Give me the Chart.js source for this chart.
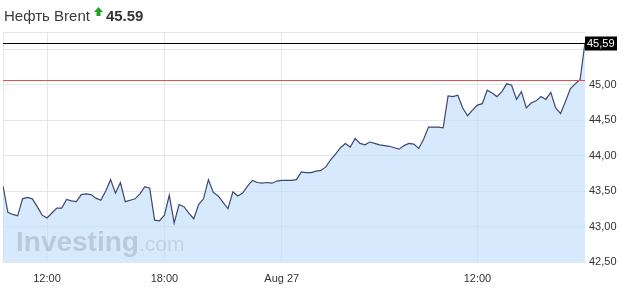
<!DOCTYPE html>
<html>
<head>
<meta charset="utf-8">
<script src="https://cdn.jsdelivr.net/npm/chart.js@4/dist/chart.umd.min.js"></script>
<style>
  html, body { margin: 0; padding: 0; background: #fff; }
  #wrap { position: relative; width: 630px; height: 296px; }
  #title {
    position: absolute; left: 4px; top: 8px; line-height: 15px;
    font-family: "Liberation Sans", Arial, sans-serif; font-size: 15px; color: #3a3a3a;
    white-space: nowrap;
  }
  #title svg { vertical-align: top; margin: -1px 3px 0 4px; }
  #title b { font-size: 15px; color: #333; }
  canvas { position: absolute; left: 0; top: 0; }
</style>
</head>
<body>
<div id="wrap">
  <canvas id="chart" width="630" height="296"></canvas>
  <div id="title">Нефть Brent<svg width="9" height="10" viewBox="0 0 9 10"><path d="M4.5 0 L9 5 L6.5 5 L6.5 9 L2.5 9 L2.5 5 L0 5 Z" fill="#23a323"/></svg><b>45.59</b></div>
</div>
<script>
// 15-minute closes, Aug 26 09:45 onwards
const prices = [
  43.57, 43.20, 43.17, 43.15, 43.39, 43.41, 43.39, 43.28, 43.16, 43.12,
  43.19, 43.26, 43.26, 43.38, 43.36, 43.35, 43.45, 43.46, 43.45, 43.40,
  43.37, 43.50, 43.66, 43.47, 43.62, 43.35, 43.37, 43.39, 43.46, 43.56,
  43.54, 43.09, 43.08, 43.16, 43.44, 43.05, 43.31, 43.28, 43.19, 43.11,
  43.31, 43.39, 43.66, 43.48, 43.43, 43.34, 43.25, 43.49, 43.43, 43.47,
  43.57, 43.65, 43.62, 43.61, 43.62, 43.61, 43.64, 43.65, 43.65, 43.65,
  43.66, 43.77, 43.76, 43.76, 43.78, 43.79, 43.84, 43.94, 44.02, 44.11,
  44.17, 44.12, 44.24, 44.17, 44.15, 44.19, 44.17, 44.15, 44.14, 44.13,
  44.11, 44.09, 44.14, 44.17, 44.16, 44.10, 44.23, 44.40, 44.40, 44.40,
  44.39, 44.84, 44.83, 44.85, 44.67, 44.56, 44.64, 44.71, 44.73, 44.92,
  44.88, 44.83, 44.90, 45.01, 44.99, 44.79, 44.90, 44.67, 44.74, 44.77,
  44.83, 44.79, 44.89, 44.67, 44.59, 44.76, 44.94, 45.01, 45.07, 45.59
];

const tickIndex = [9, 33, 57, 97];
const tickLabels = ["12:00", "18:00", "Aug 27", "12:00"];
const yTicks = [42.5, 43, 43.5, 44, 44.5, 45, 45.5];

const lastPrice = 45.59;
const prevClose = 45.06;

const gridColor = "#e4e6ec";
const font = { family: "'Liberation Sans', Arial, sans-serif", size: 11 };

const extras = {
  id: "extras",
  beforeDatasetsDraw(chart) {
    const { ctx, chartArea: a } = chart;
    ctx.save();
    ctx.strokeStyle = gridColor;
    ctx.lineWidth = 1;
    ctx.beginPath();
    ctx.moveTo(a.left + 0.5, a.bottom);
    ctx.lineTo(a.left + 0.5, a.top + 0.5);
    ctx.lineTo(a.right, a.top + 0.5);
    ctx.stroke();
    ctx.restore();
  },
  afterDatasetsDraw(chart) {
    const { ctx, chartArea: a, scales } = chart;
    ctx.save();
    // watermark
    ctx.fillStyle = "rgba(140,150,168,0.38)";
    ctx.font = "bold 28px 'Liberation Sans', Arial, sans-serif";
    ctx.textBaseline = "alphabetic";
    ctx.fillText("Investing", 16, 251);
    const w = ctx.measureText("Investing").width;
    ctx.fillStyle = "rgba(140,150,168,0.28)";
    ctx.font = "21px 'Liberation Sans', Arial, sans-serif";
    ctx.fillText(".com", 16 + w, 251);

    // previous close and last price lines
    const yRed = Math.round(scales.y.getPixelForValue(prevClose)) + 0.5;
    ctx.strokeStyle = "#e05050";
    ctx.lineWidth = 1;
    ctx.beginPath();
    ctx.moveTo(a.left, yRed);
    ctx.lineTo(a.right, yRed);
    ctx.stroke();

    const yBlk = Math.round(scales.y.getPixelForValue(lastPrice)) + 0.5;
    ctx.strokeStyle = "#000";
    ctx.beginPath();
    ctx.moveTo(a.left, yBlk);
    ctx.lineTo(a.right, yBlk);
    ctx.stroke();

    ctx.fillStyle = "#000";
    ctx.fillRect(a.right, yBlk - 7, 32, 14);
    ctx.fillStyle = "#fff";
    ctx.font = "11px 'Liberation Sans', Arial, sans-serif";
    ctx.textBaseline = "middle";
    ctx.fillText(lastPrice.toFixed(2).replace(".", ","), a.right + 2, yBlk);
    ctx.restore();
  }
};

new Chart(document.getElementById("chart"), {
  type: "line",
  data: {
    datasets: [{
      data: prices.map((p, i) => ({ x: i, y: p })),
      borderColor: "#3d4870",
      borderWidth: 1.2,
      backgroundColor: "rgba(196,222,252,0.68)",
      fill: "start",
      pointRadius: 0,
      tension: 0
    }]
  },
  options: {
    responsive: false,
    animation: false,
    layout: { padding: { top: 32, left: 3, right: 0, bottom: 0 } },
    plugins: { legend: { display: false }, tooltip: { enabled: false } },
    scales: {
      x: {
        type: "linear",
        min: 0,
        max: prices.length - 1,
        afterBuildTicks: (axis) => { axis.ticks = tickIndex.map((v) => ({ value: v })); },
        afterFit: (axis) => { axis.height = 34; },
        grid: { color: gridColor, drawTicks: false },
        border: { display: false },
        ticks: {
          font, color: "#333", padding: 10, maxRotation: 0, autoSkip: false,
          callback: (v) => tickLabels[tickIndex.indexOf(v)]
        }
      },
      y: {
        position: "right",
        min: 42.5,
        max: 45.74,
        afterBuildTicks: (axis) => { axis.ticks = yTicks.map((v) => ({ value: v })); },
        afterFit: (axis) => { axis.width = 45; },
        grid: { color: gridColor, drawTicks: false },
        border: { display: false },
        ticks: {
          font, color: "#333", padding: 4,
          callback: (v) => (v === 45.5 ? "" : v.toFixed(2).replace(".", ","))
        }
      }
    }
  },
  plugins: [extras]
});
</script>
</body>
</html>
